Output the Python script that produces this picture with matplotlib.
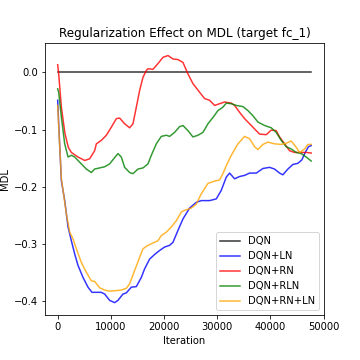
import matplotlib
matplotlib.use("Agg")
import matplotlib.pyplot as plt
import numpy as np

# values
dqn_it = [0, 47700]
dqn_val = [0.0, 0.0]

ln_it = [0, 190, 690, 1320, 1950, 2570, 3200, 3820, 4760, 5700, 6450, 7270, 8200,
         8830, 9770, 10710, 11340, 12280, 12910, 13850, 14790, 15730, 16350, 17290,
         18230, 19170, 20110, 21050, 21670, 22620, 23560, 24810, 26070, 27010, 28570,
         29830, 30770, 31710, 32330, 33270, 34210, 35150, 36090, 37350, 38600, 39850,
         40790, 41730, 42350, 43290, 44230, 45170, 45920, 46550, 47170, 47680]
ln_val = [-0.049, -0.09, -0.189, -0.224, -0.270, -0.294, -0.317, -0.337, -0.358,
          -0.375, -0.384, -0.384, -0.384, -0.387, -0.398, -0.402, -0.398, -0.387,
          -0.385, -0.375, -0.374, -0.358, -0.343, -0.326, -0.318, -0.311, -0.305,
          -0.302, -0.297, -0.276, -0.256, -0.237, -0.227, -0.224, -0.224, -0.221,
          -0.206, -0.183, -0.176, -0.186, -0.182, -0.180, -0.176, -0.176, -0.168,
          -0.166, -0.169, -0.176, -0.179, -0.169, -0.161, -0.159, -0.153, -0.140,
          -0.130, -0.128]

rn_it = [0, 190, 690, 1370, 2000, 2570, 3820, 5080, 6020, 6950, 7270, 8200, 9150,
         10090, 11030, 11650, 12590, 13530, 14160, 14790, 15410, 16040, 16670, 16980,
         17920, 18860, 19810, 20750, 21690, 22620, 23560, 24500, 25440, 26690, 27630,
         28570, 29510, 30450, 31390, 32650, 33270, 34210, 35150, 36090, 37030, 37970,
         39220, 40160, 41100, 41730, 42670, 43610, 44550, 45800, 46740, 47680]
rn_val = [0.013, -0.003, -0.061, -0.107, -0.131, -0.140, -0.148, -0.154, -0.151,
          -0.137, -0.125, -0.119, -0.110, -0.096, -0.081, -0.080, -0.090, -0.097,
          -0.090, -0.061, -0.032, -0.009, 0.003, 0.006, 0.005, 0.015, 0.026, 0.029,
          0.023, 0.022, 0.017, -0.003, -0.020, -0.035, -0.046, -0.049, -0.058, -0.055,
          -0.052, -0.054, -0.058, -0.070, -0.081, -0.090, -0.099, -0.108, -0.109,
          -0.101, -0.102, -0.113, -0.125, -0.137, -0.140, -0.140, -0.140, -0.141]

rln_it = [0, 190, 690, 1320, 1950, 2570, 3200, 3820, 4760, 5390, 6330, 6950, 7890,
          8830, 9770, 10710, 11340, 11970, 12590, 13530, 14160, 15100, 16040, 16980,
          17610, 18550, 19490, 20430, 21050, 21990, 22930, 23560, 24500, 25440, 26380,
          27320, 28260, 29200, 30140, 31080, 31710, 32650, 33590, 34840, 35780, 36720,
          37660, 38910, 40160, 41100, 42040, 42980, 43920, 44860, 45800, 46740, 47680]
rln_val = [-0.029, -0.035, -0.078, -0.125, -0.148, -0.145, -0.148, -0.154, -0.163,
           -0.169, -0.175, -0.169, -0.167, -0.165, -0.160, -0.149, -0.142, -0.148,
           -0.166, -0.175, -0.177, -0.169, -0.167, -0.160, -0.145, -0.125, -0.112,
           -0.110, -0.112, -0.105, -0.095, -0.093, -0.102, -0.113, -0.110, -0.105,
           -0.090, -0.079, -0.067, -0.061, -0.054, -0.055, -0.058, -0.060, -0.067,
           -0.076, -0.087, -0.093, -0.097, -0.105, -0.119, -0.130, -0.134, -0.140,
           -0.142, -0.148, -0.155]

rnln_it = [0, 190, 690, 1630, 2260, 2890, 3510, 4450, 5390, 6330, 6950, 7890, 8830,
           9770, 11030, 11970, 12910, 13530, 14470, 15410, 16040, 16980, 17920, 18860,
           19490, 20430, 21370, 22310, 23250, 23870, 25130, 26070, 27010, 28260, 29510,
           30450, 31080, 31710, 32650, 33900, 35150, 36090, 37030, 37660, 38600, 39540,
           40790, 42040, 42980, 43920, 44860, 45490, 46430, 47060, 47680]
rnln_val = [-0.058, -0.095, -0.185, -0.247, -0.279, -0.291, -0.308, -0.332, -0.349,
            -0.364, -0.365, -0.376, -0.380, -0.382, -0.381, -0.380, -0.377, -0.369,
            -0.346, -0.323, -0.308, -0.302, -0.298, -0.294, -0.285, -0.279, -0.270,
            -0.259, -0.244, -0.241, -0.237, -0.230, -0.212, -0.194, -0.190, -0.188,
            -0.177, -0.163, -0.145, -0.125, -0.112, -0.116, -0.130, -0.135, -0.126,
            -0.122, -0.125, -0.126, -0.124, -0.120, -0.131, -0.140, -0.134, -0.126,
            -0.126]

series = [
    ("DQN", dqn_it, dqn_val, "black"),
    ("DQN+LN", ln_it, ln_val, "blue"),
    ("DQN+RN", rn_it, rn_val, "red"),
    ("DQN+RLN", rln_it, rln_val, "green"),
    ("DQN+RN+LN", rnln_it, rnln_val, "orange"),
]

fig = plt.figure(figsize=(5, 5), dpi=72)
ax = fig.add_subplot(111)
for name, it, val, col in series:
    ax.plot(it, val, color=col, alpha=0.8, linewidth=1.5, label=name)

ax.set_xticks(np.arange(0, 50001, 10000))
ax.set_title("Regularization Effect on MDL (target fc_1)")
ax.set_xlabel("Iteration")
ax.set_ylabel("MDL")
ax.legend(loc="lower right")
fig.subplots_adjust(left=0.125, right=0.9, top=0.88, bottom=0.125)
fig.savefig("out.png", dpi=72)
